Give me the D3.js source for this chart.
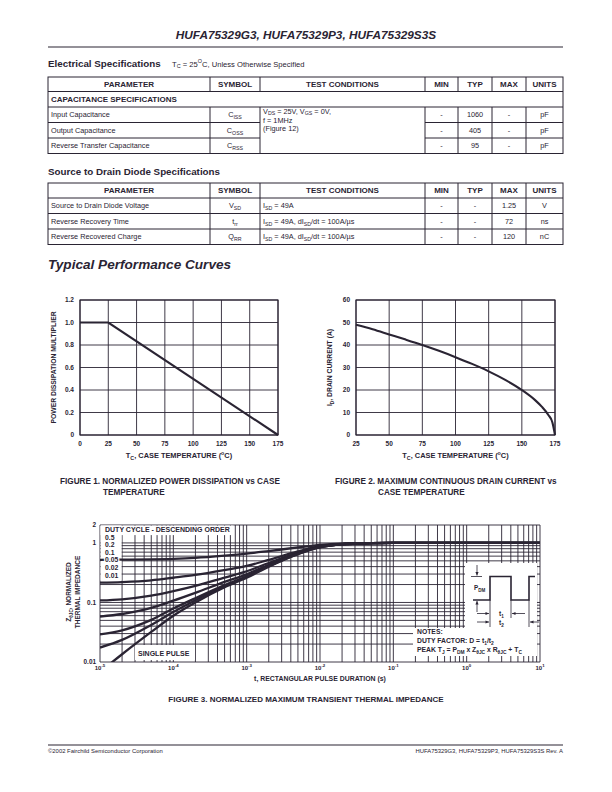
<!DOCTYPE html>
<html><head><meta charset="utf-8">
<script src="https://cdn.jsdelivr.net/npm/d3@7"></script>
<style>
body{margin:0;background:#fff;}
svg{display:block;}
text{font-family:"Liberation Sans",Arial,Helvetica,sans-serif;fill:#2a2433;}
</style></head><body>
<svg id="page" width="612" height="792"></svg>
<script>
// ---------------- DATA ----------------
const docTitle = "HUFA75329G3, HUFA75329P3, HUFA75329S3S";
const tableColumns = ["PARAMETER", "SYMBOL", "TEST CONDITIONS", "MIN", "TYP", "MAX", "UNITS"];

const capParams = ["Input Capacitance", "Output Capacitance", "Reverse Transfer Capacitance"];
const capSymbols = [["C", "ISS"], ["C", "OSS"], ["C", "RSS"]];
const capMin = ["-", "-", "-"];
const capTyp = ["1060", "405", "95"];
const capMax = ["-", "-", "-"];
const capUnits = ["pF", "pF", "pF"];

const diodeParams = ["Source to Drain Diode Voltage", "Reverse Recovery Time", "Reverse Recovered Charge"];
const diodeSymbols = [["V", "SD"], ["t", "rr"], ["Q", "RR"]];
const diodeMin = ["-", "-", "-"];
const diodeTyp = ["-", "-", "-"];
const diodeMax = ["1.25", "72", "120"];
const diodeUnits = ["V", "ns", "nC"];

// Figure 1
const fig1Temp = [0, 25, 175];
const fig1Mult = [1.0, 1.0, 0];
const fig1XTicks = [0, 25, 50, 75, 100, 125, 150, 175];
const fig1YTicks = [0, 0.2, 0.4, 0.6, 0.8, 1.0, 1.2];

// Figure 2
const fig2Temp = [25, 37.5, 50, 62.5, 75, 87.5, 100, 112.5, 125, 137.5, 150, 160, 165, 170, 173, 175];
const fig2Current = [49, 47, 44.7, 42.4, 40, 37.4, 34.6, 31.6, 28.3, 24.5, 20, 15.5, 12.6, 8.9, 5.7, 0];
const fig2XTicks = [25, 50, 75, 100, 125, 150, 175];
const fig2YTicks = [0, 10, 20, 30, 40, 50, 60];

// Figure 3
const fig3Time = [1e-5, 2e-5, 5e-5, 1e-4, 2e-4, 5e-4, 1e-3, 2e-3, 5e-3, 1e-2, 2e-2, 5e-2, 1e-1, 1, 10];
const zD050 = [0.52, 0.525, 0.53, 0.54, 0.56, 0.61, 0.66, 0.73, 0.84, 0.93, 0.975, 0.99, 1.0, 1.0, 1.0];
const zD020 = [0.215, 0.22, 0.235, 0.26, 0.29, 0.35, 0.41, 0.52, 0.72, 0.88, 0.96, 0.99, 1.0, 1.0, 1.0];
const zD010 = [0.108, 0.113, 0.13, 0.155, 0.19, 0.262, 0.334, 0.46, 0.685, 0.865, 0.955, 0.99, 1.0, 1.0, 1.0];
const zD005 = [0.058, 0.064, 0.081, 0.107, 0.145, 0.221, 0.297, 0.43, 0.67, 0.86, 0.95, 0.99, 1.0, 1.0, 1.0];
const zD002 = [0.029, 0.034, 0.051, 0.079, 0.118, 0.196, 0.275, 0.41, 0.66, 0.85, 0.95, 0.99, 1.0, 1.0, 1.0];
const zD001 = [0.0175, 0.0235, 0.042, 0.069, 0.109, 0.188, 0.267, 0.405, 0.655, 0.85, 0.95, 0.99, 1.0, 1.0, 1.0];
const zSingle = [0.0068, 0.0135, 0.032, 0.06, 0.10, 0.18, 0.26, 0.40, 0.65, 0.85, 0.95, 0.99, 1.0, 1.0, 1.0];
const dutyLabels = ["0.5", "0.2", "0.1", "0.05", "0.02", "0.01"];
const fig3XDecades = [-5, -4, -3, -2, -1, 0, 1];
const fig3YLabels = [0.01, 0.1, 1, 2];
const fig3YLabelText = ["0.01", "0.1", "1", "2"];

// ---------------- HELPERS ----------------
const INK = "#2a2433";
const svg = d3.select("#page");

function rich(sel, x, y, parts, o = {}) {
  const size = o.size || 7;
  const t = sel.append("text").attr("x", x).attr("y", y)
    .attr("font-size", size)
    .attr("font-weight", o.weight || "normal")
    .attr("font-style", o.style || "normal")
    .attr("text-anchor", o.anchor || "start");
  if (o.transform) t.attr("transform", o.transform);
  if (o.halo) t.attr("stroke", "#fff").attr("stroke-width", 2.5).attr("paint-order", "stroke").attr("stroke-linejoin", "round");
  let cur = 0;
  parts.forEach(p => {
    let txt, off = 0, fs = null;
    if (typeof p === "string") { txt = p; }
    else { txt = p.t; fs = size * 0.72; off = p.s === "sub" ? size * 0.26 : -size * 0.42; }
    const ts = t.append("tspan").text(txt);
    if (fs) ts.attr("font-size", fs);
    if (off - cur !== 0) ts.attr("dy", off - cur);
    cur = off;
  });
  return t;
}
const sub = t => ({ t, s: "sub" });
const sup = t => ({ t, s: "sup" });

function hline(g, x1, x2, y, w = 1) {
  g.append("line").attr("x1", x1).attr("x2", x2).attr("y1", y).attr("y2", y).attr("stroke", INK).attr("stroke-width", w);
}
function vline(g, x, y1, y2, w = 1) {
  g.append("line").attr("x1", x).attr("x2", x).attr("y1", y1).attr("y2", y2).attr("stroke", INK).attr("stroke-width", w);
}

// ---------------- HEADER ----------------
rich(svg, 306, 39, [docTitle], { size: 11.8, weight: "bold", style: "italic", anchor: "middle" });
hline(svg, 48, 563, 47, 1.2);

rich(svg, 48, 66.5, ["Electrical Specifications"], { size: 9.8, weight: "bold" });
rich(svg, 172, 66.5, ["T", sub("C"), " = 25", sup("O"), "C, Unless Otherwise Specified"], { size: 7.6 });

const colX = [48, 210, 260, 425, 458, 492, 526, 563];
const colMid = i => (colX[i] + colX[i + 1]) / 2;
const BODY = 7.3, HEAD = 8;

function headerRow(g, y0, y1) {
  tableColumns.forEach((c, i) => rich(g, colMid(i), (y0 + y1) / 2 + 2.9, [c], { size: HEAD, weight: "bold", anchor: "middle" }));
}

// Table 1
const t1 = svg.append("g");
const r1 = [77, 91.5, 107, 122.5, 138, 153.5];
t1.append("rect").attr("x", 48).attr("y", r1[0]).attr("width", 563 - 48).attr("height", r1[5] - r1[0])
  .attr("fill", "none").attr("stroke", INK).attr("stroke-width", 1);
hline(t1, 48, 563, r1[1]);
hline(t1, 48, 563, r1[2]);
hline(t1, 48, colX[2], r1[3]); hline(t1, colX[3], 563, r1[3]);
hline(t1, 48, colX[2], r1[4]); hline(t1, colX[3], 563, r1[4]);
colX.slice(1, 7).forEach(x => { vline(t1, x, r1[0], r1[1]); vline(t1, x, r1[2], r1[5]); });
headerRow(t1, r1[0], r1[1]);
rich(t1, 51, (r1[1] + r1[2]) / 2 + 2.9, ["CAPACITANCE SPECIFICATIONS"], { size: HEAD, weight: "bold" });
capParams.forEach((p, i) => {
  const y = (r1[2 + i] + r1[3 + i]) / 2 + 2.5;
  rich(t1, 51, y, [p], { size: BODY });
  rich(t1, colMid(1), y, [capSymbols[i][0], sub(capSymbols[i][1])], { size: BODY, anchor: "middle" });
  rich(t1, colMid(3), y, [capMin[i]], { size: BODY, anchor: "middle" });
  rich(t1, colMid(4), y, [capTyp[i]], { size: BODY, anchor: "middle" });
  rich(t1, colMid(5), y, [capMax[i]], { size: BODY, anchor: "middle" });
  rich(t1, colMid(6), y, [capUnits[i]], { size: BODY, anchor: "middle" });
});
rich(t1, 263, r1[2] + 6.5, ["V", sub("DS"), " = 25V, V", sub("GS"), " = 0V,"], { size: BODY });
rich(t1, 263, r1[2] + 15.5, ["f = 1MHz"], { size: BODY });
rich(t1, 263, r1[2] + 23.5, ["(Figure 12)"], { size: BODY });

// Table 2
rich(svg, 48, 175, ["Source to Drain Diode Specifications"], { size: 9.8, weight: "bold" });
const t2 = svg.append("g");
const r2 = [183, 198, 213.5, 229, 244.5];
t2.append("rect").attr("x", 48).attr("y", r2[0]).attr("width", 563 - 48).attr("height", r2[4] - r2[0])
  .attr("fill", "none").attr("stroke", INK).attr("stroke-width", 1);
[1, 2, 3].forEach(k => hline(t2, 48, 563, r2[k]));
colX.slice(1, 7).forEach(x => vline(t2, x, r2[0], r2[4]));
headerRow(t2, r2[0], r2[1]);
const diodeCond = [
  ["I", sub("SD"), " = 49A"],
  ["I", sub("SD"), " = 49A, dI", sub("SD"), "/dt = 100A/\u00b5s"],
  ["I", sub("SD"), " = 49A, dI", sub("SD"), "/dt = 100A/\u00b5s"]
];
diodeParams.forEach((p, i) => {
  const y = (r2[1 + i] + r2[2 + i]) / 2 + 2.5;
  rich(t2, 51, y, [p], { size: BODY });
  rich(t2, colMid(1), y, [diodeSymbols[i][0], sub(diodeSymbols[i][1])], { size: BODY, anchor: "middle" });
  rich(t2, 263, y, diodeCond[i], { size: BODY });
  rich(t2, colMid(3), y, [diodeMin[i]], { size: BODY, anchor: "middle" });
  rich(t2, colMid(4), y, [diodeTyp[i]], { size: BODY, anchor: "middle" });
  rich(t2, colMid(5), y, [diodeMax[i]], { size: BODY, anchor: "middle" });
  rich(t2, colMid(6), y, [diodeUnits[i]], { size: BODY, anchor: "middle" });
});

rich(svg, 48, 268.5, ["Typical Performance Curves"], { size: 13.6, weight: "bold", style: "italic" });

// ---------------- FIGURES 1 & 2 ----------------
function linearChart(o) {
  const g = svg.append("g");
  const x = d3.scaleLinear().domain(o.xDomain).range([o.x0, o.x1]);
  const y = d3.scaleLinear().domain(o.yDomain).range([o.y1, o.y0]);
  o.xTicks.forEach(v => vline(g, x(v), o.y0, o.y1, 0.9));
  o.yTicks.forEach(v => hline(g, o.x0, o.x1, y(v), 0.9));
  g.append("rect").attr("x", o.x0).attr("y", o.y0).attr("width", o.x1 - o.x0).attr("height", o.y1 - o.y0)
    .attr("fill", "none").attr("stroke", INK).attr("stroke-width", 1.1);
  o.xTicks.forEach(v => rich(g, x(v), o.y1 + 11, [o.xFmt(v)], { size: 6.5, weight: "bold", anchor: "middle" }));
  o.yTicks.forEach(v => rich(g, o.x0 - 6, y(v) + 2.3, [o.yFmt(v)], { size: 6.5, weight: "bold", anchor: "end" }));
  const line = d3.line().x(d => x(d[0])).y(d => y(d[1])).curve(o.curve || d3.curveLinear);
  g.append("path").attr("d", line(o.xs.map((v, i) => [v, o.ys[i]])))
    .attr("fill", "none").attr("stroke", INK).attr("stroke-width", 2.1);
  rich(g, (o.x0 + o.x1) / 2, o.y1 + 23, ["T", sub("C"), ", CASE TEMPERATURE (", sup("o"), "C)"], { size: 7.4, weight: "bold", anchor: "middle" });
  rich(g, 0, 0, o.yTitle, { size: 6.8, weight: "bold", anchor: "middle", transform: `translate(${o.yTitleX},${(o.y0 + o.y1) / 2}) rotate(-90)` });
  rich(g, o.capX, 484, [o.cap1], { size: 8.2, weight: "bold" });
  rich(g, o.capX + 43, 494.5, [o.cap2], { size: 8.2, weight: "bold" });
}

linearChart({
  x0: 80, x1: 278, y0: 300, y1: 435,
  xDomain: [0, 175], yDomain: [0, 1.2],
  xTicks: fig1XTicks, yTicks: fig1YTicks,
  xFmt: v => String(v), yFmt: v => v === 0 ? "0" : v.toFixed(1),
  xs: fig1Temp, ys: fig1Mult,
  yTitle: ["POWER DISSIPATION MULTIPLIER"], yTitleX: 56,
  capX: 60, cap1: "FIGURE 1.  NORMALIZED POWER DISSIPATION vs CASE", cap2: "TEMPERATURE"
});

linearChart({
  x0: 356, x1: 555, y0: 300, y1: 435,
  xDomain: [25, 175], yDomain: [0, 60],
  xTicks: fig2XTicks, yTicks: fig2YTicks,
  xFmt: v => String(v), yFmt: v => String(v),
  xs: fig2Temp, ys: fig2Current, curve: d3.curveMonotoneX,
  yTitle: ["I", sub("D"), ", DRAIN CURRENT (A)"], yTitleX: 332,
  capX: 335, cap1: "FIGURE 2.  MAXIMUM CONTINUOUS DRAIN CURRENT vs", cap2: "CASE TEMPERATURE"
});

// ---------------- FIGURE 3 ----------------
(function () {
  const g = svg.append("g");
  const X0 = 100, X1 = 540, Y0 = 525, Y1 = 662;
  const x = d3.scaleLog().domain([1e-5, 10]).range([X0, X1]);
  const y = d3.scaleLog().domain([0.01, 2]).range([Y1, Y0]);

  // grid
  for (let d = -5; d <= 0; d++) for (let m = 1; m <= 9; m++) vline(g, x(m * Math.pow(10, d)), Y0, Y1, 0.9);
  vline(g, x(10), Y0, Y1, 0.9);
  for (let d = -2; d <= -1; d++) for (let m = 1; m <= 9; m++) hline(g, X0, X1, y(m * Math.pow(10, d)), 0.9);
  hline(g, X0, X1, y(1), 0.9);
  hline(g, X0, X1, y(2), 0.9);

  // white knock-out areas
  const white = (x0, y0, w, h) => g.append("rect").attr("x", x0).attr("y", y0).attr("width", w).attr("height", h).attr("fill", "#fff");
  white(X0 + 0.6, Y0 + 0.6, 133, 9.5);
  white(X0 + 0.6, Y0 + 0.6, 21, 55);
  white(135, 645, 60, 15);
  white(465, 563, 72, 66);
  white(413, 628, 124, 28);

  // curves
  g.append("clipPath").attr("id", "clip3").append("rect").attr("x", X0).attr("y", Y0).attr("width", X1 - X0).attr("height", Y1 - Y0);
  const line = d3.line().x(d => x(d[0])).y(d => y(d[1])).curve(d3.curveMonotoneX);
  [zD050, zD020, zD010, zD005, zD002, zD001, zSingle].forEach(s => {
    g.append("path").attr("d", line(fig3Time.map((t, i) => [t, s[i]])))
      .attr("clip-path", "url(#clip3)")
      .attr("fill", "none").attr("stroke", INK).attr("stroke-width", 2.3);
  });

  // legend
  rich(g, 105, 532, ["DUTY CYCLE - DESCENDING ORDER"], { size: 7, weight: "bold" });
  dutyLabels.forEach((l, i) => rich(g, 105, 539.5 + i * 7.6, [l], { size: 6.8, weight: "bold", halo: true }));
  rich(g, 138, 655.5, ["SINGLE PULSE"], { size: 7, weight: "bold" });

  // axes labels
  fig3YLabels.forEach((v, i) => rich(g, 96, y(v) + 2.3, [fig3YLabelText[i]], { size: 6.4, weight: "bold", anchor: "end" }));
  fig3XDecades.forEach(d => rich(g, x(Math.pow(10, d)), 669.5, ["10", sup(String(d))], { size: 6, weight: "bold", anchor: "middle" }));
  rich(g, 320, 681, ["t, RECTANGULAR PULSE DURATION (s)"], { size: 6.9, weight: "bold", anchor: "middle" });
  rich(g, 0, 0, ["Z", sub("\u03b8JC"), ", NORMALIZED"], { size: 6.5, weight: "bold", anchor: "middle", transform: "translate(71,592) rotate(-90)" });
  rich(g, 0, 0, ["THERMAL IMPEDANCE"], { size: 6.5, weight: "bold", anchor: "middle", transform: "translate(80,592) rotate(-90)" });

  // notes
  rich(g, 417, 634, ["NOTES:"], { size: 6.8, weight: "bold" });
  rich(g, 417, 643, ["DUTY FACTOR: D = t", sub("1"), "/t", sub("2")], { size: 6.8, weight: "bold" });
  rich(g, 417, 652, ["PEAK T", sub("J"), " = P", sub("DM"), " x Z", sub("\u03b8JC"), " x R", sub("\u03b8JC"), " + T", sub("C")], { size: 6.8, weight: "bold" });

  // pulse diagram
  const hi = 576.5, lo = 600;
  g.append("path").attr("d", `M473,${lo}H490V${hi}H511V${lo}H529V${hi}H535`)
    .attr("fill", "none").attr("stroke", INK).attr("stroke-width", 1.6);
  hline(g, 471, 482, hi, 0.8);
  vline(g, 490, lo, 627, 0.8);
  vline(g, 511, lo, 618, 0.8);
  vline(g, 529, lo, 627, 0.8);
  const arrow = (x1, y1, x2, y2) => {
    g.append("line").attr("x1", x1).attr("y1", y1).attr("x2", x2).attr("y2", y2).attr("stroke", INK).attr("stroke-width", 0.8);
    const a = Math.atan2(y2 - y1, x2 - x1), L = 3.5, W = 1.6;
    const p = [[x2, y2],
      [x2 - L * Math.cos(a) + W * Math.sin(a), y2 - L * Math.sin(a) - W * Math.cos(a)],
      [x2 - L * Math.cos(a) - W * Math.sin(a), y2 - L * Math.sin(a) + W * Math.cos(a)]];
    g.append("path").attr("d", "M" + p.join("L") + "Z").attr("fill", INK);
  };
  arrow(477, 565, 477, hi - 1);
  arrow(477, 612, 477, lo + 1);
  arrow(477, 613.5, 489, 613.5);
  arrow(525, 613.5, 512, 613.5);
  arrow(477, 622, 489, 622);
  arrow(539, 622, 530, 622);
  rich(g, 474, 590, ["P", sub("DM")], { size: 6.3, weight: "bold" });
  rich(g, 499, 616, ["t", sub("1")], { size: 6.5, weight: "bold" });
  rich(g, 499, 625, ["t", sub("2")], { size: 6.5, weight: "bold" });

  rich(g, 306, 702, ["FIGURE 3.  NORMALIZED MAXIMUM TRANSIENT THERMAL IMPEDANCE"], { size: 8, weight: "bold", anchor: "middle" });
})();

// ---------------- FOOTER ----------------
hline(svg, 48, 563, 745, 1.2);
rich(svg, 48, 753, ["\u00a92002 Fairchild Semiconductor Corporation"], { size: 5.9 });
rich(svg, 563, 753, ["HUFA75329G3, HUFA75329P3, HUFA75329S3S Rev. A"], { size: 5.9, anchor: "end" });
</script>
</body></html>
